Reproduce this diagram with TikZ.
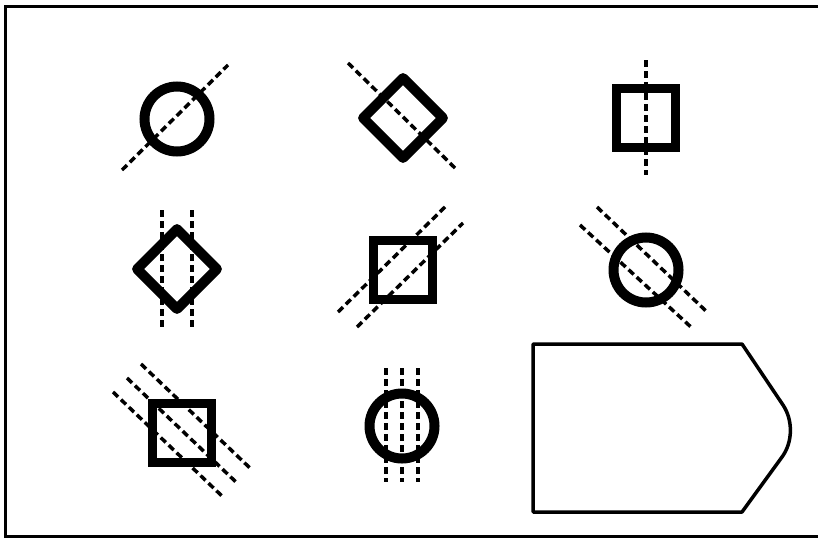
\documentclass[tikz,border=0pt]{standalone}
\usetikzlibrary{shapes.geometric}

\begin{document}
\begin{tikzpicture}[
  x=1pt, y=-1pt,
  ring/.style={draw, circle, line width=10pt, minimum size=65pt, inner sep=0pt},
  sq/.style={draw, rectangle, line width=9.5pt, minimum size=59pt, inner sep=0pt},
  dia/.style={draw, diamond, line width=10pt, line join=round, minimum width=84pt, minimum height=84pt, inner sep=0pt},
  axis/.style={line width=3.5pt, dash pattern=on 7pt off 4pt},
  frame/.style={line width=3pt}
]
\useasboundingbox (0,0) rectangle (818,538);
% outer frame
\draw[frame] (818,6) -- (5,6) -- (5,536) -- (818,536);

% first row
\node[ring] (c1) at (177,119) {};
\node[dia] (d1) at (403,118) {};
\node[sq] (s1) at (646,118) {};
\draw[axis] ([shift={(-55,51)}]c1.center) -- ([shift={(51,-54)}]c1.center);
\draw[axis] ([shift={(-55,-55)}]d1.center) -- ([shift={(52,50)}]d1.center);
\draw[axis] ([shift={(0,-58)}]s1.center) -- ([shift={(0,57)}]s1.center);

% second row
\node[dia] (d2) at (177,269) {};
\node[sq] (s2) at (403,270) {};
\node[ring] (c2) at (646,270) {};
\foreach \o in {-15,15}
  \draw[axis] ([shift={(\o,-59)}]d2.center) -- ([shift={(\o,58)}]d2.center);
\draw[axis] ([shift={(-65,42)}]s2.center) -- ([shift={(43,-64)}]s2.center);
\draw[axis] ([shift={(-46,57)}]s2.center) -- ([shift={(60,-47)}]s2.center);
\draw[axis] ([shift={(-49,-63)}]c2.center) -- ([shift={(61,42)}]c2.center);
\draw[axis] ([shift={(-66,-45)}]c2.center) -- ([shift={(46,58)}]c2.center);

% third row
\node[sq] (s3) at (182,433) {};
\node[ring] (c3) at (402,426) {};
\foreach \o in {-14,0,14}
  \draw[axis] ([shift={(-55+\o,-55-\o)}]s3.center) -- ([shift={(55+\o,50-\o)}]s3.center);
\foreach \o in {-16,0,16}
  \draw[axis] ([shift={(\o,-58)}]c3.center) -- ([shift={(\o,56)}]c3.center);

% pointed plate
\draw[line width=3.5pt, line join=round]
  (533,344) -- (742,344) -- (783,405)
  .. controls (793,420) and (793,442) .. (782,457)
  -- (742,512) -- (533,512) -- cycle;
\end{tikzpicture}
\end{document}
